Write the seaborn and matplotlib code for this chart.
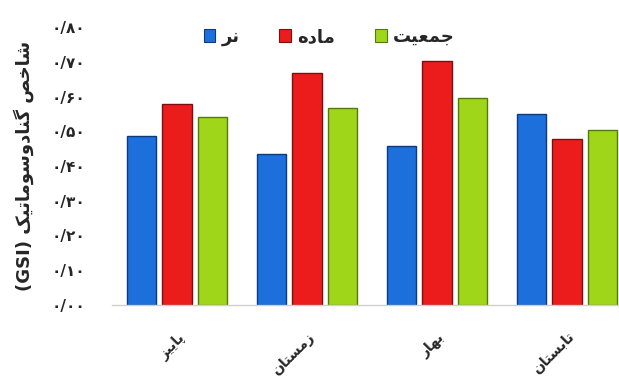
import matplotlib
matplotlib.use("Agg")
import matplotlib.pyplot as plt
import seaborn as sns
import pandas as pd

# data (GSI per season)
seasons = ["پاییز", "زمستان", "بهار", "تابستان"]
groups = ["نر", "ماده", "جمعیت"]
male = [0.485, 0.435, 0.458, 0.550]
female = [0.577, 0.668, 0.703, 0.479]
total = [0.540, 0.566, 0.595, 0.504]
yticks = [0.0, 0.1, 0.2, 0.3, 0.4, 0.5, 0.6, 0.7, 0.8]
ylabel_fa = "شاخص گنادوسوماتیک"
ylabel_en = "(GSI)"

colors = ["#1d6fdc", "#ec1c1c", "#9fd61a"]
edges = ["#0c3a80", "#7d0e0e", "#557a0b"]

# matplotlib has no arabic shaping, so do it by hand with presentation forms
# (isolated, final, initial, medial) start code points
DUAL = {'ب': 0xFE8F, 'ت': 0xFE95, 'ج': 0xFE9D, 'خ': 0xFEA5, 'س': 0xFEB1,
        'ش': 0xFEB5, 'ص': 0xFEB9, 'ع': 0xFEC9, 'م': 0xFEE1, 'ن': 0xFEE5,
        'ه': 0xFEE9, 'پ': 0xFB56, 'ی': 0xFBFC, 'ک': 0xFB8E, 'گ': 0xFB92}
RIGHT = {'ا': 0xFE8D, 'د': 0xFEA9, 'ر': 0xFEAD, 'ز': 0xFEAF, 'و': 0xFEED}


def shape(text):
    """Return visual (left to right) form of a persian string"""
    out = []
    for i, ch in enumerate(text):
        if ch not in DUAL and ch not in RIGHT:
            out.append(ch)
            continue
        prev = text[i - 1] if i > 0 else ""
        nxt = text[i + 1] if i + 1 < len(text) else ""
        j_prev = prev in DUAL
        j_next = ch in DUAL and (nxt in DUAL or nxt in RIGHT)
        if ch in RIGHT:
            base = RIGHT[ch]
            out.append(chr(base + 1) if j_prev else chr(base))
        else:
            base = DUAL[ch]
            if j_prev and j_next:
                out.append(chr(base + 3))
            elif j_next:
                out.append(chr(base + 2))
            elif j_prev:
                out.append(chr(base + 1))
            else:
                out.append(chr(base))
    return "".join(out[::-1])


def fa_num(v):
    s = "{:.2f}".format(v).replace(".", "/")
    return s.translate(str.maketrans("0123456789", "۰۱۲۳۴۵۶۷۸۹"))


df = pd.DataFrame({
    "season": seasons * 3,
    "group": [groups[0]] * 4 + [groups[1]] * 4 + [groups[2]] * 4,
    "gsi": male + female + total,
})

sns.set_theme(style="white")
plt.rcParams['font.family'] = ['DejaVu Sans']

fig = plt.figure(figsize=(6.19, 3.81), dpi=100)
ax = fig.add_axes([112 / 619, 76 / 381, 1 - 112 / 619, 278 / 381])

sns.barplot(data=df, x="season", y="gsi", hue="group", hue_order=groups,
            palette=colors, saturation=1, width=0.82, gap=0.18, ax=ax,
            legend=False, errorbar=None)

for cont, ec in zip(ax.containers, edges):
    for bar in cont:
        bar.set_edgecolor(ec)
        bar.set_linewidth(1.0)

ax.set_xlim(-0.5, 3.40)
ax.set_ylim(0, 0.8)
ax.set_yticks(yticks)
ax.set_yticklabels([fa_num(v) for v in yticks], fontsize=11, fontweight="bold")
ax.set_xticks(range(len(seasons)))
ax.set_xticklabels([shape(s) for s in seasons], rotation=45, ha="right",
                   rotation_mode="anchor", fontsize=10, fontweight="bold")
ax.tick_params(axis="x", length=0, pad=18)
ax.tick_params(axis="y", length=0, pad=19)
ax.set_xlabel("")
ax.set_ylabel(ylabel_en + " " + shape(ylabel_fa), fontsize=13,
              fontweight="bold", labelpad=13)

for s in ["top", "right", "left"]:
    ax.spines[s].set_visible(False)
ax.spines["bottom"].set_color("#cfcfcf")
ax.spines["bottom"].set_linewidth(1.0)

handles = [plt.Rectangle((0, 0), 1, 1, facecolor=c, edgecolor=e, linewidth=0.8)
           for c, e in zip(colors, edges)]
fig.legend(handles, [shape(g) for g in groups], loc="center",
           bbox_to_anchor=(0.532, 0.903), ncol=3, frameon=False,
           handlelength=0.65, handleheight=0.65, handletextpad=0.35,
           columnspacing=2.2, prop={"size": 13, "weight": "bold"})

fig.savefig("out.png", dpi=100)
